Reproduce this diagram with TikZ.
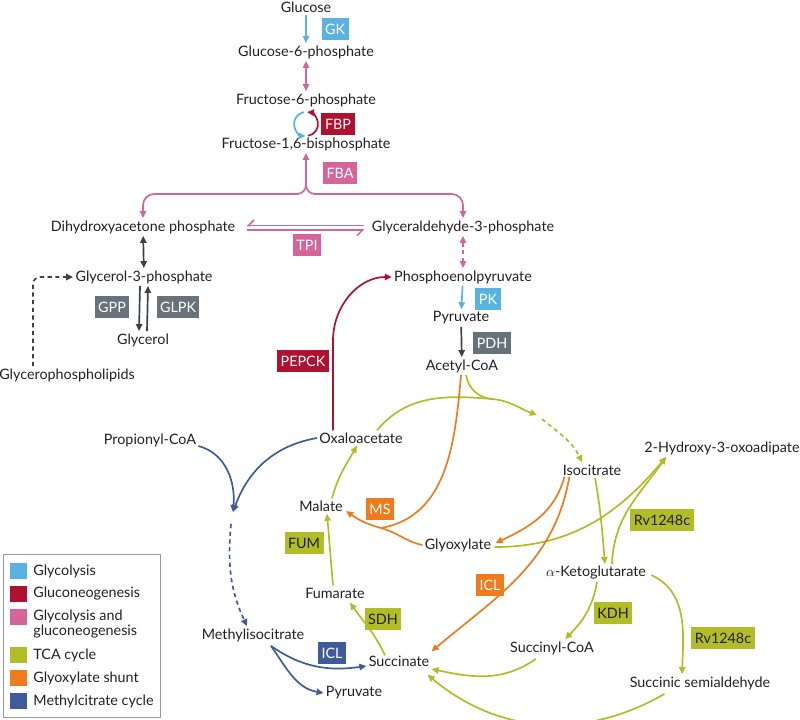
\documentclass[tikz,border=0pt]{standalone}
\usepackage{fontspec}
\setmainfont{Lato}
\usetikzlibrary{arrows.meta, calc}

\definecolor{glyc}{HTML}{58B2E2}
\definecolor{gneo}{HTML}{AE1230}
\definecolor{both}{HTML}{D5649A}
\definecolor{tca}{HTML}{B2BC27}
\definecolor{glx}{HTML}{EE7B1C}
\definecolor{mcc}{HTML}{3F5B99}
\definecolor{greybox}{HTML}{66737B}
\definecolor{darkg}{HTML}{3C4247}
\definecolor{ink}{HTML}{231F20}

\begin{document}
\begin{tikzpicture}[x=0.025cm, y=0.025cm, text=ink,
  met/.style  = {inner sep=1.5pt, font=\fontsize{10.2}{11}\selectfont},
  enz/.style  = {fill=#1, text=white, inner xsep=2.5pt, inner ysep=0pt,
                 minimum height=0.54cm, font=\fontsize{10.2}{11}\selectfont},
  enzd/.style = {enz=#1, text=ink},
  arr/.style  = {line width=1.2pt, -{Triangle[length=5pt,width=4.5pt]}},
  darr/.style = {line width=1.2pt, {Triangle[length=5pt,width=4.5pt]}-{Triangle[length=5pt,width=4.5pt]}},
  ln/.style   = {line width=1.2pt},
  dots/.style = {dash pattern=on 3pt off 2.5pt},
  harp/.style = {line width=1.1pt, -{Straight Barb[harpoon,swap,length=4pt]}},
]
\useasboundingbox (0,0) rectangle (800,-719);

% metabolites
\node[met] (glc)     at (306,-7)   {Glucose};
\node[met] (g6p)     at (306,-52)  {Glucose-6-phosphate};
\node[met] (f6p)     at (306,-100) {Fructose-6-phosphate};
\node[met] (fbp)     at (306,-144) {Fructose-1,6-bisphosphate};
\node[met] (dhap)    at (143,-227) {Dihydroxyacetone phosphate};
\node[met] (gap)     at (463,-227) {Glyceraldehyde-3-phosphate};
\node[met] (gro3p)   at (144,-277) {Glycerol-3-phosphate};
\node[met] (gro)     at (143,-340) {Glycerol};
\node[met] (gpl)     at (67,-375)  {Glycerophospholipids};
\node[met] (pep)     at (463,-277) {Phosphoenolpyruvate};
\node[met] (pyr)     at (461,-318) {Pyruvate};
\node[met] (accoa)   at (462,-366) {Acetyl-CoA};
\node[met] (oaa)     at (361,-438) {Oxaloacetate};
\node[met] (propcoa) at (150,-440) {Propionyl-CoA};
\node[met] (icit)    at (592,-470) {Isocitrate};
\node[met] (hoa)     at (722,-448) {2-Hydroxy-3-oxoadipate};
\node[met] (mal)     at (321,-506) {Malate};
\node[met] (glx)     at (458,-545) {Glyoxylate};
\node[met] (akg)     at (596,-573) {$\alpha$-Ketoglutarate};
\node[met] (fum)     at (335,-593) {Fumarate};
\node[met] (succ)    at (399,-661) {Succinate};
\node[met] (succoa)  at (552,-648) {Succinyl-CoA};
\node[met] (ssa)     at (700,-683) {Succinic semialdehyde};
\node[met] (mcit)    at (253,-635) {Methylisocitrate};
\node[met] (pyrb)    at (354,-693) {Pyruvate};

% enzymes
\node[enz=glyc]     (gk)     at (335,-29)  {GK};
\node[enz=gneo]     (fbpase) at (338,-124) {FBP};
\node[enz=both]     (fba)    at (340,-173) {FBA};
\node[enz=both]     (tpi)    at (307,-245) {TPI};
\node[enz=greybox]  (gpp)    at (112,-307) {GPP};
\node[enz=greybox]  (glpk)   at (178,-307) {GLPK};
\node[enz=glyc]     (pk)     at (488,-299) {PK};
\node[enz=greybox]  (pdh)    at (492,-343) {PDH};
\node[enz=gneo]     (pepck)  at (303,-361) {PEPCK};
\node[enzd=tca]     (fumase) at (304,-543) {FUM};
\node[enz=glx]      (ms)     at (380,-509) {MS};
\node[enzd=tca]     (rva)    at (662,-520) {Rv1248c};
\node[enz=glx]      (icla)   at (490,-585) {ICL};
\node[enzd=tca]     (sdh)    at (383,-619) {SDH};
\node[enzd=tca]     (kdh)    at (613,-613) {KDH};
\node[enzd=tca]     (rvb)    at (723,-638) {Rv1248c};
\node[enz=mcc]      (iclb)   at (332,-653) {ICL};

% glycolysis / gluconeogenesis
\draw[glyc,arr] (glc) -- (g6p);
\draw[both,darr] (g6p) -- (f6p);
\coordinate (cyc) at (306,-124);
\draw[glyc,arr] ([shift={(100:0.3cm)}]cyc) arc[start angle=100,end angle=268,radius=0.3cm];
\draw[gneo,arr] ([shift={(-80:0.3cm)}]cyc) arc[start angle=-80,end angle=85,radius=0.3cm];
\coordinate (fork) at (306,-194);
\draw[both,ln] ($(fork)+(9,0)$) to[out=180,in=-90] ($(fork)+(0,9)$);
\draw[both,arr] ($(fork)+(-9,0)$) to[out=0,in=-90] ($(fork)+(0,9)$) -- (fbp);
\draw[both,arr,rounded corners=8pt] ($(fork)+(-8,0)$) -| (dhap);
\draw[both,arr,rounded corners=8pt] ($(fork)+(8,0)$) -| (gap);
\draw[both,harp] ($(gap.west)+(-5,1.5)$) -- ($(dhap.east)+(9,1.5)$);
\draw[both,harp] ($(dhap.east)+(9,-3)$) -- ($(gap.west)+(-5,-3)$);
\draw[darkg,darr] (dhap) -- (gro3p);
\draw[darkg,arr] ($(gro3p.south)+(-4,0)$) -- ($(gro.north)+(-4,0)$);
\draw[darkg,arr] ($(gro.north)+(4,0)$) -- ($(gro3p.south)+(4,0)$);
\draw[darkg,arr,dots,rounded corners=5pt] ($(gpl.north)+(-34,0)$) |- (gro3p.west);
\draw[both,darr,dots] (gap) -- (pep);
\draw[glyc,arr] (pep) -- (pyr);
\draw[darkg,arr] (pyr) -- (accoa);
\draw[gneo,arr] ($(oaa.north)+(-28,0)$) -- ++(0,90) to[out=90,in=180] (pep.west);

% TCA cycle
\coordinate (tcaj) at (492,-399);
\coordinate (tcae) at (537,-415);
\draw[tca,ln] ($(oaa.north)+(16,0)$) to[out=50,in=175] (tcaj);
\draw[tca,arr] (tcaj) to[out=-5,in=160] (tcae);
\draw[tca,ln] ($(accoa.south)+(4,0)$) to[out=-80,in=175] (tcaj);
\draw[tca,arr,dots] ($(tcae)+(5,-4)$) to[out=-40,in=115] ($(icit.north)+(-10,0)$);
\draw[tca,arr] ($(icit.south)+(3,0)$) to[out=-80,in=95] ($(akg.north)+(9,0)$);
\draw[tca,arr] ($(akg.north)+(16,0)$) to[out=88,in=-125] ($(hoa.south west)+(24,0)$);
\draw[tca,arr] ($(glx.east)+(1,-2)$) to[out=0,in=-130] ($(hoa.south west)+(24,0)$);
\draw[tca,arr] ($(akg.south)+(1,0)$) to[out=-100,in=45] ($(succoa.north)+(13,0)$);
\draw[tca,arr] ($(akg.east)+(3,-2)$) to[out=-25,in=88] ($(ssa.north)+(-18,0)$);
\draw[tca,arr] ($(succoa.south west)+(28,-2)$) to[out=-145,in=-12] ($(succ.east)+(0,-8)$);
\draw[tca,arr] ($(ssa.south west)+(37,-2)$) to[out=-150,in=-40] ($(succ.south east)+(-4,-6)$);
\draw[tca,arr] ($(succ.north)+(-14,-2)$) to[out=115,in=-55] ($(fum.south)+(15,-2)$);
\draw[tca,arr] ($(fum.north)+(-2,0)$) to[out=95,in=-85] ($(mal.south)+(6,0)$);
\draw[tca,arr] ($(mal.north)+(11,0)$) to[out=75,in=-120] ($(oaa.south west)+(40,0)$);

% glyoxylate shunt
\coordinate (msj) at (381,-528);
\draw[glx,ln] ($(accoa.south)+(-1,0)$) to[out=-95,in=10] (msj);
\draw[glx,ln] (glx.west) to[out=168,in=-15] (msj);
\draw[glx,arr] (msj) to[out=165,in=-35] ($(mal.east)+(1,-5)$);
\draw[glx,arr] ($(icit.south west)+(4,1)$) to[out=-105,in=25] ($(glx.east)+(2,2)$);
\draw[glx,arr] ($(icit.south west)+(9,1)$) to[out=-100,in=40] ($(succ.north east)+(0,2)$);

% methylcitrate cycle
\coordinate (mcj) at (233,-512);
\draw[mcc,arr] ($(propcoa.east)+(0,-6)$) to[out=-15,in=85] (mcj);
\draw[mcc,arr] (oaa.west) to[out=190,in=70] (mcj);
\draw[mcc,arr,dots] ($(mcj)+(-2,-12)$) to[out=-95,in=115] ($(mcit.north)+(-6,0)$);
\draw[mcc,arr] ($(mcit.south)+(18,-2)$) to[out=-35,in=188] ($(succ.west)+(0,-5)$);
\draw[mcc,arr] ($(mcit.south)+(18,-2)$) to[out=-55,in=170] (pyrb.west);

% legend
\draw[black!40,line width=0.6pt] (3,-554) rectangle (160,-717);
\foreach \c/\t/\ys/\yt [count=\i] in {glyc/Glycolysis/571/571, gneo/Gluconeogenesis/594/594,
    both/{Glycolysis and\\gluconeogenesis}/617/624, tca/TCA cycle/655/655,
    glx/Glyoxylate shunt/678/678, mcc/Methylcitrate cycle/701/701}{
  \fill[\c] (10,-\ys) ++(0,8) rectangle ++(17,-16);
  \node[met, anchor=west, align=left] (lg\i) at (31,-\yt) {\t};
}
\end{tikzpicture}
\end{document}
